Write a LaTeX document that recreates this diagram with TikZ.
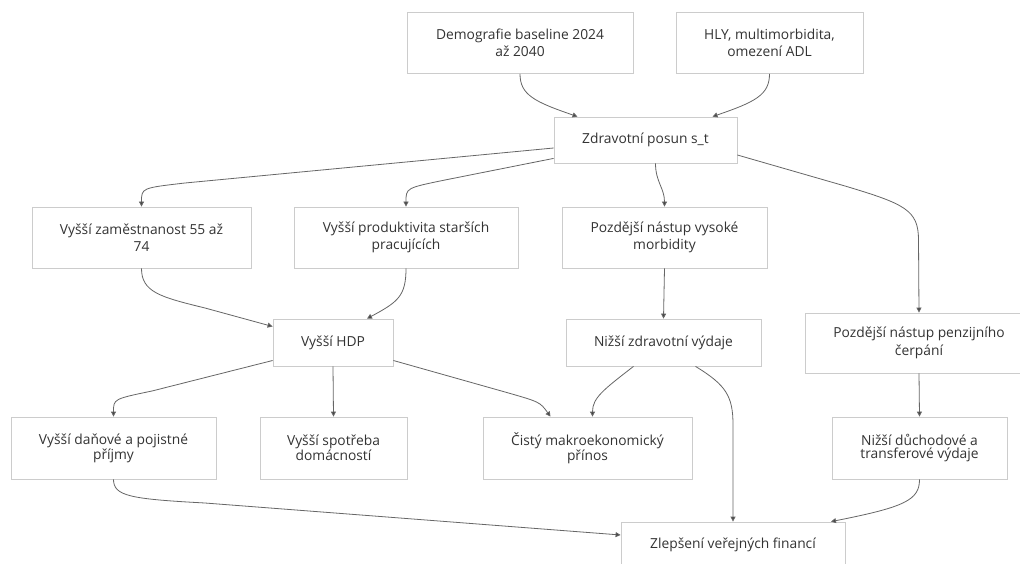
\documentclass[tikz,border=0pt]{standalone}
\usepackage{fontspec}
\setmainfont{Open Sans}
\usetikzlibrary{arrows.meta,calc}
\definecolor{txt}{HTML}{333333}
\definecolor{bord}{HTML}{CCCCCC}
\definecolor{edge}{HTML}{666666}
\definecolor{tip}{HTML}{444444}
\begin{document}
\begin{tikzpicture}[x=1pt,y=-1pt,
  box/.style={draw=bord,line width=0.8pt,fill=white,inner sep=0pt,align=center,
    text=txt,font=\fontsize{13.8}{17.5}\selectfont},
  tightbox/.style={box,font=\fontsize{13.8}{13.8}\selectfont},
  conn/.style={draw=edge,line width=0.8pt,-{Triangle[length=5pt,width=5pt,fill=tip]}}]
\useasboundingbox[fill=white] (0,0) rectangle (1020,564);
% nodes
\node[box,minimum width=226pt,minimum height=61pt] (dem) at (520,43) {Demografie baseline 2024\\až 2040};
\node[box,minimum width=187pt,minimum height=61pt] (hly) at (769.5,43) {HLY, multimorbidita,\\omezení ADL};
\node[box,minimum width=183pt,minimum height=46pt] (zd) at (645.5,140) {Zdravotní posun s\_t};
\node[box,minimum width=219pt,minimum height=61pt] (zam) at (141.5,237.5) {Vyšší zaměstnanost 55 až\\74};
\node[box,minimum width=224pt,minimum height=61pt] (prod) at (406,237.5) {Vyšší produktivita starších\\pracujících};
\node[box,minimum width=205pt,minimum height=61pt] (vys) at (664.5,237.5) {Pozdější nástup vysoké\\morbidity};
\node[box,minimum width=120pt,minimum height=47pt] (hdp) at (333,342.5) {Vyšší HDP};
\node[box,minimum width=195pt,minimum height=47pt] (nzv) at (663.5,342.5) {Nižší zdravotní výdaje};
\node[box,minimum width=228pt,minimum height=60pt] (pen) at (919,343) {Pozdější nástup penzijního\\čerpání};
\node[tightbox,minimum width=205pt,minimum height=62pt] (dan) at (113.5,448) {Vyšší daňové a pojistné\\příjmy};
\node[tightbox,minimum width=147pt,minimum height=62pt] (spo) at (333.5,448) {Vyšší spotřeba\\domácností};
\node[tightbox,minimum width=209pt,minimum height=62pt] (cis) at (587.5,448) {Čistý makroekonomický\\přínos};
\node[tightbox,minimum width=175pt,minimum height=62pt] (ndu) at (919.5,448) {Nižší důchodové a\\transferové výdaje};
\node[box,minimum width=224pt,minimum height=46pt] (zle) at (733,545) {Zlepšení veřejných financí};
% connectors
\draw[conn] (dem.south) .. controls (520,95) and (535,102) .. ($(zd.north)+(-68,0)$);
\draw[conn] (hly.south) .. controls (769.5,95) and (755,102) .. ($(zd.north)+(67,0)$);
\draw[conn] ($(zd.west)+(0,8)$) -- (185,183) .. controls (141.5,188) .. (zam.north);
\draw[conn] ($(zd.south west)+(0,-5)$) -- (445,180) .. controls (406,188) .. (prod.north);
\draw[conn] ($(zd.south)+(10,0)$) .. controls (655.5,182) and (664.5,188) .. (vys.north);
\draw[conn] ($(zd.east)+(0,15)$) -- (845,186) .. controls (905,204) and (918.5,210) .. (918.5,240) -- (pen.north);
\draw[conn] (zam.south) .. controls (141.5,292) and (160,297) .. (205,308) -- ($(hdp.west)+(0,-16)$);
\draw[conn] (prod.south) .. controls (406,296) and (398,302) .. ($(hdp.north)+(34,0)$);
\draw[conn] ($(hdp.west)+(0,18)$) -- (152,391) .. controls (113.5,399) .. (dan.north);
\draw[conn] (hdp.south) -- (spo.north);
\draw[conn] ($(hdp.east)+(0,18)$) -- (505,392) .. controls (540,402) .. ($(cis.north)+(-37,0)$);
\draw[conn] (vys.south) -- (nzv.north);
\draw[conn] ($(nzv.south)+(-30,0)$) .. controls (603,390) and (592.5,398) .. ($(cis.north)+(5,0)$);
\draw[conn] ($(nzv.south)+(32,0)$) .. controls (726,385) and (733,396) .. (733,425) -- (zle.north);
\draw[conn] (pen.south) -- (ndu.north);
\draw[conn] (dan.south) .. controls (113.5,496) and (130,499) .. (205,503) -- ($(zle.west)+(0,-10)$);
\draw[conn] (ndu.south) .. controls (919.5,500) and (905,507) .. ($(zle.north)+(98,0)$);
\end{tikzpicture}
\end{document}
